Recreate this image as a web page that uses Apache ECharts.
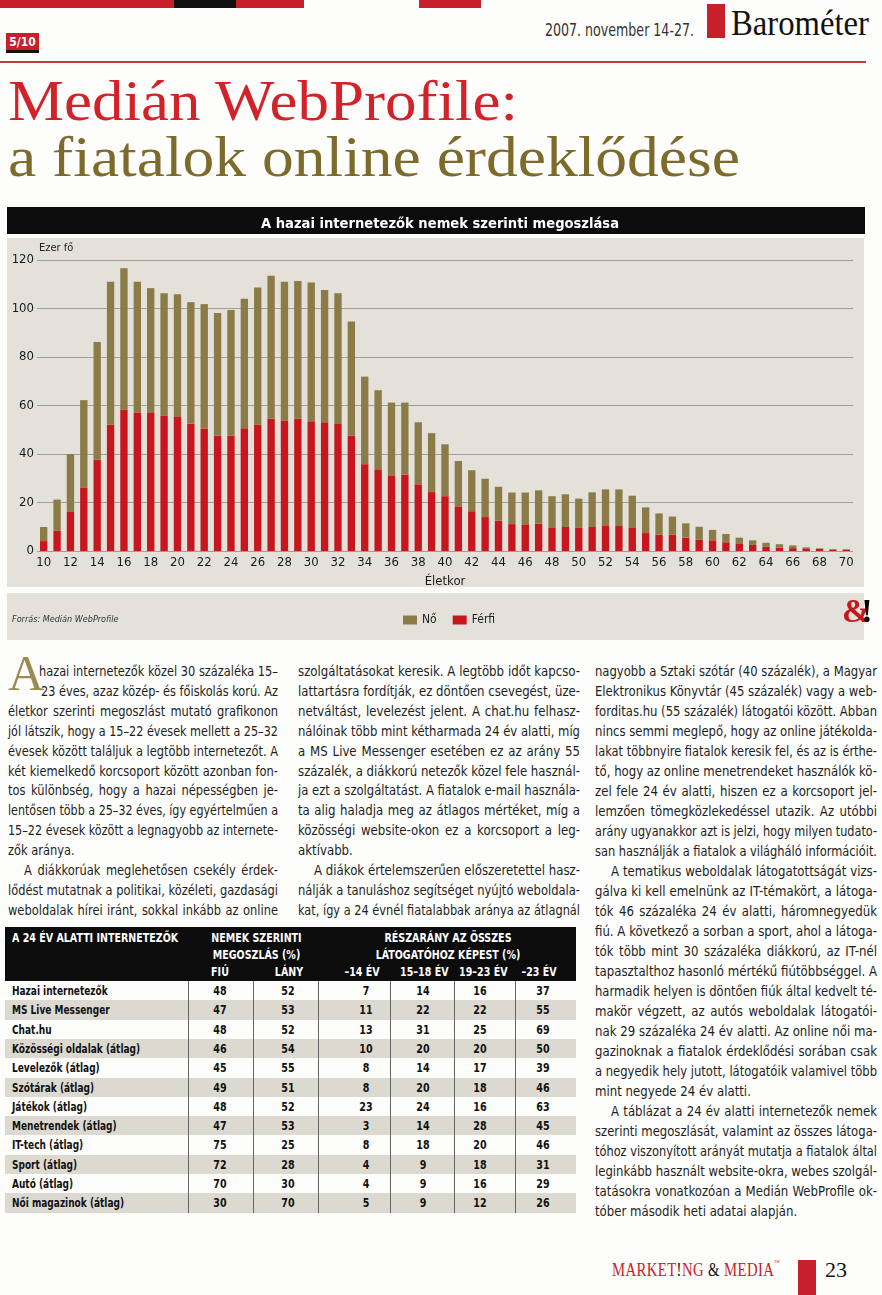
<!DOCTYPE html>
<html><head><meta charset="utf-8">
<script src="https://cdn.jsdelivr.net/npm/echarts@6/dist/echarts.min.js"></script>
<style>
html,body{margin:0;padding:0;background:#fff;}
#page{position:relative;width:882px;height:1295px;overflow:hidden;background:#fdfdfb;}
.abs{position:absolute;white-space:nowrap;}
.cond{font-family:"Liberation Sans Narrow","DejaVu Sans Condensed","Roboto Condensed",sans-serif;}
.serif{font-family:"Liberation Serif","DejaVu Serif",serif;line-height:1;}
.ln{position:absolute;white-space:nowrap;transform-origin:0 50%;font-size:14.5px;line-height:20px;height:20px;color:#1e1e1e;}
.th{position:absolute;white-space:nowrap;color:#fff;font-weight:bold;font-size:11.5px;line-height:14px;transform:scaleX(0.92);transform-origin:50% 50%;}
.td{position:absolute;white-space:nowrap;color:#111;font-weight:bold;font-size:12.5px;line-height:19px;transform:scaleX(0.85);transform-origin:50% 50%;}
.tl{transform:scaleX(0.8);transform-origin:0 50%;}
</style></head>
<body><div id="page">
  <!-- top strip -->
  <div class="abs" style="left:0;top:0;width:174px;height:8px;background:#c8202a"></div>
  <div class="abs" style="left:174px;top:0;width:62px;height:8px;background:#111"></div>
  <div class="abs" style="left:236px;top:0;width:68px;height:8px;background:#c8202a"></div>
  <div class="abs" style="left:419px;top:0;width:62px;height:8px;background:#c8202a"></div>
  <div class="abs" style="left:6px;top:33px;width:33px;height:17px;background:#c8202a"></div>
  <div class="abs" style="left:6px;top:50px;width:33px;height:3px;background:#111"></div>
  <div class="abs cond" style="left:6px;top:34px;width:33px;text-align:center;color:#fff;font-weight:bold;font-size:12px;line-height:16px">5/10</div>
  <div class="abs cond fit" data-w="149" style="left:545px;top:20px;font-size:17px;line-height:20px;color:#333">2007. november 14-27.</div>
  <div class="abs" style="left:707px;top:4px;width:18px;height:34px;background:#c8202a"></div>
  <div class="abs serif fit" data-w="138" style="left:731px;top:6px;font-size:35px;color:#111">Barométer</div>
  <div class="abs" style="left:0;top:61px;width:866px;height:2px;background:#c9383e"></div>

  <div class="abs serif fit" data-w="510" style="left:8px;top:72px;font-size:58px;color:#d2232a">Medián WebProfile:</div>
  <div class="abs serif fit" data-w="732" style="left:8px;top:128px;font-size:58px;color:#7d6b2c">a fiatalok online érdeklődése</div>

  <!-- chart panels -->
  <div class="abs" style="left:7px;top:207px;width:858px;height:27px;background:#0c0c0c"></div>
  <div class="abs" style="left:7px;top:238px;width:857px;height:349px;background:#e4e1da"></div>
  <div class="abs" style="left:7px;top:593px;width:857px;height:47px;background:#e4e1da"></div>
  <div id="chart" class="abs" style="left:0;top:200px;width:882px;height:445px"></div>

  <div class="abs serif" style="left:8px;top:648px;font-size:50px;color:#9c8a52">A</div>
  <div id="text"></div>
  <div id="table"></div>

  <!-- footer -->
  <div class="abs serif fit" data-w="168" style="left:612px;top:1260px;font-size:19px;color:#c8202a;letter-spacing:0.5px">MARKET<span style="color:#111">!</span>NG <span style="color:#111">&amp;</span> MEDIA<span style="font-size:7px;vertical-align:top">™</span></div>
  <div class="abs" style="left:798px;top:1260px;width:18px;height:35px;background:#c8202a"></div>
  <div class="abs serif" style="left:825px;top:1259px;font-size:22px;color:#111">23</div>
</div>
<script>
// ---------- chart data ----------
const ages = ['10','11','12','13','14','15','16','17','18','19','20','21','22','23','24','25','26','27','28','29','30','31','32','33','34','35','36','37','38','39','40','41','42','43','44','45','46','47','48','49','50','51','52','53','54','55','56','57','58','59','60','61','62','63','64','65','66','67','68','69','70'];
const ferfi = [4.1,8.3,16.1,26.0,37.7,52.1,58.3,57.1,56.9,55.7,55.3,52.5,50.5,47.5,47.6,50.6,52.1,54.5,53.8,54.5,53.5,53.1,52.4,47.5,35.8,33.7,31.2,31.5,27.5,24.3,22.6,18.4,16.4,14.0,12.5,11.1,11.0,11.3,9.5,9.9,9.5,9.9,10.6,10.3,9.5,7.4,6.7,6.7,5.5,4.7,4.4,3.6,2.9,2.5,1.7,1.4,1.2,1.1,0.9,0.6,0.6];
const no = [5.8,12.9,23.9,36.2,48.5,58.9,58.3,53.9,51.5,50.6,50.6,50.1,51.3,50.6,51.8,53.4,56.6,59.0,57.2,56.8,57.2,54.5,53.9,47.1,36.1,32.6,30.0,29.7,25.6,24.3,21.4,18.7,16.9,15.8,14.0,13.0,13.1,13.7,13.1,13.5,12.1,14.3,14.8,15.1,13.3,10.6,8.8,7.5,5.9,5.3,4.3,3.4,2.6,1.9,1.7,1.4,1.1,0.4,0.2,0.2,0.1];
const seriesNames = ['Nő','Férfi'];

// ---------- table data ----------
const tblRows = ['Hazai internetezők','MS Live Messenger','Chat.hu','Közösségi oldalak (átlag)','Levelezők (átlag)','Szótárak (átlag)','Játékok (átlag)','Menetrendek (átlag)','IT-tech (átlag)','Sport (átlag)','Autó (átlag)','Női magazinok (átlag)'];
const fiu   = [48,47,48,46,45,49,48,47,75,72,70,30];
const lany  = [52,53,52,54,55,51,52,53,25,28,30,70];
const u14   = [7,11,13,10,8,8,23,3,8,4,4,5];
const a1518 = [14,22,31,20,14,20,24,14,18,9,9,9];
const a1923 = [16,22,25,20,17,18,16,28,20,18,16,12];
const u23   = [37,55,69,50,39,46,63,45,46,31,29,26];

const FONT = '"Liberation Sans Narrow","DejaVu Sans Condensed",sans-serif';
const chart = echarts.init(document.getElementById('chart'));
chart.setOption({
  animation:false,
  textStyle:{fontFamily:FONT},
  title:{text:'A hazai internetezők nemek szerinti megoszlása',left:435,top:12,textAlign:'center',
    textStyle:{color:'#fff',fontWeight:'bold',fontSize:14.6,fontFamily:FONT}},
  legend:{data:seriesNames,left:398,top:409,itemWidth:14,itemHeight:9,itemGap:16,icon:'rect',
    textStyle:{fontSize:12,color:'#222',fontFamily:FONT}},
  grid:{left:37,right:29,top:60,bottom:94},
  xAxis:{type:'category',data:ages,axisLine:{show:false},axisTick:{show:false},
    axisLabel:{interval:1,fontSize:13,color:'#1a1a1a',margin:5,fontFamily:FONT},
    name:'Életkor',nameLocation:'middle',nameGap:24,nameTextStyle:{fontSize:13,color:'#1a1a1a',fontFamily:FONT}},
  yAxis:{type:'value',min:0,max:120,interval:20,
    axisLabel:{fontSize:13,color:'#1a1a1a',margin:3,fontFamily:FONT},
    axisLine:{show:false},axisTick:{show:false},
    splitLine:{lineStyle:{color:'#a19e96',width:1}},
    name:'Ezer fő',nameLocation:'end',nameGap:5,nameTextStyle:{fontSize:11,color:'#222',align:'left',padding:[0,0,0,2],fontFamily:FONT}},
  series:[
    {name:'Férfi',type:'bar',stack:'t',data:ferfi,barWidth:'55%',itemStyle:{color:'#c8161e'}},
    {name:'Nő',type:'bar',stack:'t',data:no,barWidth:'55%',itemStyle:{color:'#8b7b47'}}
  ],
  graphic:[
    {type:'text',left:12,top:415,style:{text:'Forrás: Medián WebProfile',font:'italic 9px '+FONT,fill:'#333'}},
    {type:'text',left:842,top:396,style:{text:'{a|&}{b|!}',rich:{
      a:{fill:'#c8161e',font:'bold 34px "Liberation Serif",serif'},
      b:{fill:'#000',font:'bold 34px "Liberation Serif",serif',padding:[0,0,0,-9]}}}}
  ]
});

// ---------- body text ----------
const col1 = [
 {t:'hazai internetezők közel 30 százaléka 15–', l:31},
 {t:'23 éves, azaz közép- és főiskolás korú. Az', l:33},
 {t:'életkor szerinti megoszlást mutató grafikonon'},
 {t:'jól látszik, hogy a 15–22 évesek mellett a 25–32'},
 {t:'évesek között találjuk a legtöbb internetezőt. A'},
 {t:'két kiemelkedő korcsoport között azonban fon-'},
 {t:'tos különbség, hogy a hazai népességben je-'},
 {t:'lentősen több a 25–32 éves, így egyértelműen a'},
 {t:'15–22 évesek között a legnagyobb az internete-'},
 {t:'zők aránya.', e:1},
 {t:'A diákkorúak meglehetősen csekély érdek-', l:16},
 {t:'lődést mutatnak a politikai, közéleti, gazdasági'},
 {t:'weboldalak hírei iránt, sokkal inkább az online'}
];
const col2 = [
 {t:'szolgáltatásokat keresik. A legtöbb időt kapcso-'},
 {t:'lattartásra fordítják, ez döntően csevegést, üze-'},
 {t:'netváltást, levelezést jelent. A chat.hu felhasz-'},
 {t:'nálóinak több mint kétharmada 24 év alatti, míg'},
 {t:'a MS Live Messenger esetében ez az arány 55'},
 {t:'százalék, a diákkorú netezők közel fele használ-'},
 {t:'ja ezt a szolgáltatást. A fiatalok e-mail használa-'},
 {t:'ta alig haladja meg az átlagos mértéket, míg a'},
 {t:'közösségi website-okon ez a korcsoport a leg-'},
 {t:'aktívabb.', e:1},
 {t:'A diákok értelemszerűen előszeretettel hasz-', l:16},
 {t:'nálják a tanuláshoz segítséget nyújtó weboldala-'},
 {t:'kat, így a 24 évnél fiatalabbak aránya az átlagnál'}
];
const col3 = [
 {t:'nagyobb a Sztaki szótár (40 százalék), a Magyar'},
 {t:'Elektronikus Könyvtár (45 százalék) vagy a web-'},
 {t:'forditas.hu (55 százalék) látogatói között. Abban'},
 {t:'nincs semmi meglepő, hogy az online játékolda-'},
 {t:'lakat többnyire fiatalok keresik fel, és az is érthe-'},
 {t:'tő, hogy az online menetrendeket használók kö-'},
 {t:'zel fele 24 év alatti, hiszen ez a korcsoport jel-'},
 {t:'lemzően tömegközlekedéssel utazik. Az utóbbi'},
 {t:'arány ugyanakkor azt is jelzi, hogy milyen tudato-'},
 {t:'san használják a fiatalok a világháló információit.'},
 {t:'A tematikus weboldalak látogatottságát vizs-', l:16},
 {t:'gálva ki kell emelnünk az IT-témakört, a látoga-'},
 {t:'tók 46 százaléka 24 év alatti, háromnegyedük'},
 {t:'fiú. A következő a sorban a sport, ahol a látoga-'},
 {t:'tók több mint 30 százaléka diákkorú, az IT-nél'},
 {t:'tapasztalthoz hasonló mértékű fiútöbbséggel. A'},
 {t:'harmadik helyen is döntően fiúk által kedvelt té-'},
 {t:'makör végzett, az autós weboldalak látogatói-'},
 {t:'nak 29 százaléka 24 év alatti. Az online női ma-'},
 {t:'gazinoknak a fiatalok érdeklődési sorában csak'},
 {t:'a negyedik hely jutott, látogatóik valamivel több'},
 {t:'mint negyede 24 év alatti.', e:1},
 {t:'A táblázat a 24 év alatti internetezők nemek', l:16},
 {t:'szerinti megoszlását, valamint az összes látoga-'},
 {t:'tóhoz viszonyított arányát mutatja a fiatalok által'},
 {t:'leginkább használt website-okra, webes szolgál-'},
 {t:'tatásokra vonatkozóan a Medián WebProfile ok-'},
 {t:'tóber második heti adatai alapján.', e:1}
];
const textHost = document.getElementById('text');
function column(lines, x, right, y0, lh){
  const els = lines.map((ln,i)=>{
    const d = document.createElement('div');
    d.className = 'ln cond';
    d.textContent = ln.t;
    const left = x + (ln.l||0);
    d.style.left = left+'px';
    d.style.top = (y0 + i*lh - 10)+'px';
    textHost.appendChild(d);
    return {d, ln, avail:right-left, nat:d.getBoundingClientRect().width};
  });
  const ratios = els.filter(o=>!o.ln.e).map(o=>o.avail/o.nat).sort((a,b)=>a-b);
  const s = ratios[Math.floor(ratios.length/2)];
  els.forEach(o=>{
    if(o.ln.e){ o.d.style.transform='scaleX('+s+')'; return; }
    if(o.nat*s > o.avail){ o.d.style.transform='scaleX('+(o.avail/o.nat)+')'; return; }
    const spaces = (o.ln.t.match(/ /g)||[]).length;
    if(spaces>0){ o.d.style.wordSpacing = ((o.avail/s - o.nat)/spaces)+'px'; }
    o.d.style.transform='scaleX('+s+')';
  });
}
column(col1, 8, 278, 671, 19.9);
column(col2, 298, 580, 671, 19.9);
column(col3, 595, 877, 671, 20.0);

// ---------- table ----------
const tb = document.getElementById('table');
function add(cls, html, css){
  const d=document.createElement('div'); d.className=cls+' cond'; d.innerHTML=html; d.style.cssText+=css; tb.appendChild(d); return d;
}
add('abs','', 'left:5px;top:927px;width:571px;height:54px;background:#0c0c0c');
const rowTop = 981, rowH = 19.3;
tblRows.forEach((r,i)=>{
  if(i%2===1) add('abs','', `left:5px;top:${rowTop+i*rowH}px;width:571px;height:${rowH}px;background:#dcd9d1`);
});
[188,253,318,390,454,515].forEach(x=>add('abs','',`left:${x}px;top:${rowTop}px;width:1px;height:${12*rowH}px;background:#666`));
add('th','A 24 ÉV ALATTI INTERNETEZŐK','left:12px;top:931px;transform-origin:0 50%');
add('th','NEMEK SZERINTI','left:194px;width:125px;text-align:center;top:931px');
add('th','MEGOSZLÁS (%)','left:194px;width:125px;text-align:center;top:948px');
add('th','FIÚ','left:200px;width:40px;text-align:center;top:965px');
add('th','LÁNY','left:272px;width:34px;text-align:center;top:965px');
add('th','RÉSZARÁNY AZ ÖSSZES','left:338px;width:220px;text-align:center;top:931px');
add('th','LÁTOGATÓHOZ KÉPEST (%)','left:338px;width:220px;text-align:center;top:948px');
add('th','–14 ÉV','left:340px;width:44px;text-align:center;top:965px');
add('th','15–18 ÉV','left:398px;width:52px;text-align:center;top:965px');
add('th','19–23 ÉV','left:457px;width:52px;text-align:center;top:965px');
add('th','–23 ÉV','left:515px;width:48px;text-align:center;top:965px');
const colC = [[fiu,220],[lany,288],[u14,366],[a1518,423],[a1923,480],[u23,543]];
tblRows.forEach((r,i)=>{
  const top = rowTop + i*rowH;
  add('td tl', r, `left:12px;top:${top}px`);
  colC.forEach(([arr,cx])=>add('td', String(arr[i]), `left:${cx-20}px;width:40px;text-align:center;top:${top}px`));
});

// ---------- fit headline widths ----------
document.querySelectorAll('.fit').forEach(el=>{
  const w = el.getBoundingClientRect().width;
  el.style.transformOrigin='0 0';
  el.style.transform='scaleX('+(parseFloat(el.dataset.w)/w)+')';
});
</script>
</body></html>
